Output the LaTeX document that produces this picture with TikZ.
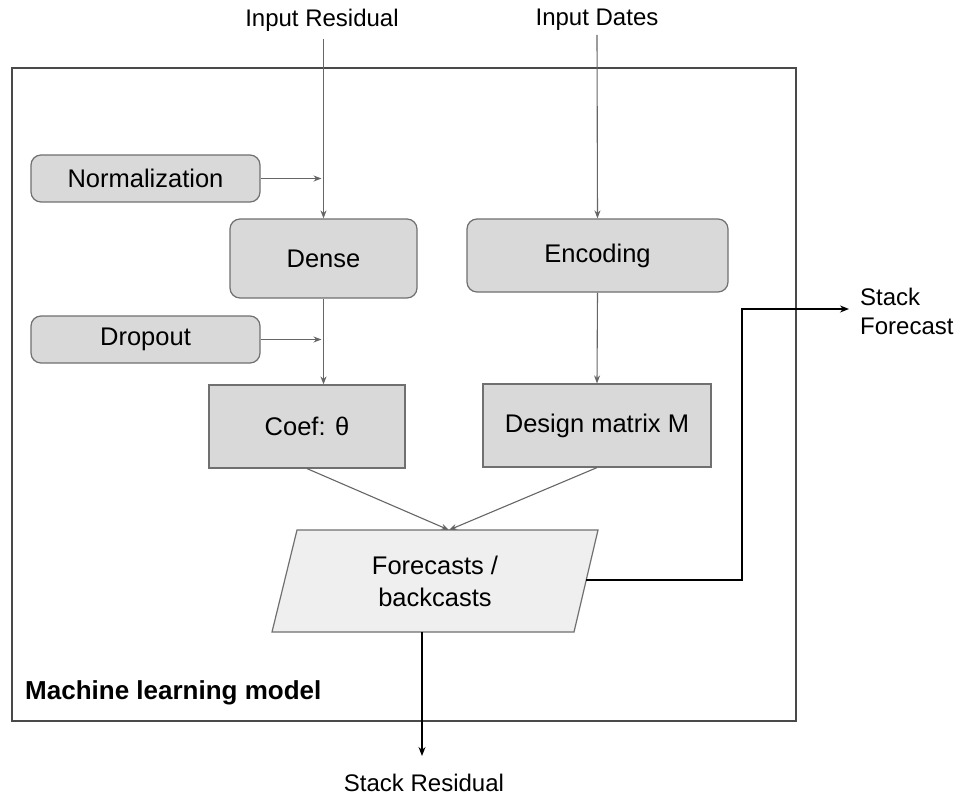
\documentclass[tikz,border=0pt]{standalone}
\usepackage{fontspec}
\setmainfont{Liberation Sans}
\usetikzlibrary{arrows.meta}
\definecolor{boxfill}{HTML}{D9D9D9}
\definecolor{fcfill}{HTML}{EFEFEF}
\definecolor{boxline}{HTML}{707070}
\definecolor{linegray}{HTML}{666666}
\definecolor{framegray}{HTML}{4A4A4A}
\begin{document}
\begin{tikzpicture}[x=1pt,y=-1pt,
  box/.style={draw=boxline, fill=boxfill, line width=1.2pt, font=\fontsize{25.5}{30}\selectfont, inner sep=0pt},
  rbox/.style={box, rounded corners=10pt},
  lbl/.style={font=\fontsize{24}{29}\selectfont, inner sep=0pt},
  conn/.style={draw=linegray, line width=1.1pt, -{Stealth[length=8pt,width=6pt]}},
  outarr/.style={draw=black, line width=1.4pt, -{Stealth[length=9pt,width=7pt]}}]
\fill[white] (0,0) rectangle (959,797);
% container
\node[draw=framegray, line width=1.5pt, minimum width=784, minimum height=653, inner sep=0pt] (model) at (404,394.5) {};
\node[anchor=west, font=\bfseries\fontsize{26}{30}\selectfont, inner sep=0pt] (mlm) at (25,693) {Machine learning model};
% labels
\node[lbl] (resid) at (322,20) {Input Residual};
\node[lbl] (dates) at (597,20) {Input Dates};
\node[lbl, anchor=west, align=left] (sf) at (860,311) {Stack\\Forecast};
\node[lbl] (sr) at (424,783) {Stack Residual};
% boxes
\node[rbox, minimum width=229, minimum height=47] (norm) at (145.5,178.5) {Normalization};
\node[rbox, minimum width=187, minimum height=79] (dense) at (323.5,258.5) {Dense};
\node[rbox, minimum width=229, minimum height=47] (drop) at (145.5,339.5) {Dropout};
\node[rbox, minimum width=261, minimum height=73] (enc) at (597.5,255.5) {Encoding};
\node[box, minimum width=196, minimum height=83] (coef) at (307,426.5) {Coef: θ};
\node[box, minimum width=228, minimum height=83] (design) at (597,425.5) {Design matrix M};
% parallelogram
\draw[draw=boxline, fill=fcfill, line width=1.2pt] (272,632) -- (297,530) -- (598,530) -- (574,632) -- cycle;
\node[font=\fontsize{25.5}{32}\selectfont, align=center, inner sep=0pt] (fc) at (435,581) {Forecasts /\\backcasts};
\coordinate (fctop) at (449,530);
\coordinate (fcright) at (586,580);
\coordinate (fcbot) at (422,632);
\coordinate (corner) at (742,309);
% connectors
\draw[conn] ([yshift=-8pt]resid.south -| dense.north) -- (dense.north);
\draw[conn, shorten >=2pt] (norm.east) -- (norm.east -| dense.north);
\draw[conn, shorten >=2pt] (drop.east) -- (drop.east -| dense.south);
\draw[conn] (dense.south) -- (dense.south |- coef.north);
\draw[conn] ([yshift=-4pt]dates.south) -- (enc.north);
\draw[conn] (enc.south) -- (design.north);
\draw[conn] (coef.south) -- (fctop);
\draw[conn] (design.south) -- (fctop);
\draw[outarr, shorten >=11pt] (fcright) -| (corner) -- (corner -| sf.west);
\draw[outarr, shorten >=18pt] (fcbot) -- (fcbot |- sr.north);
\end{tikzpicture}
\end{document}
